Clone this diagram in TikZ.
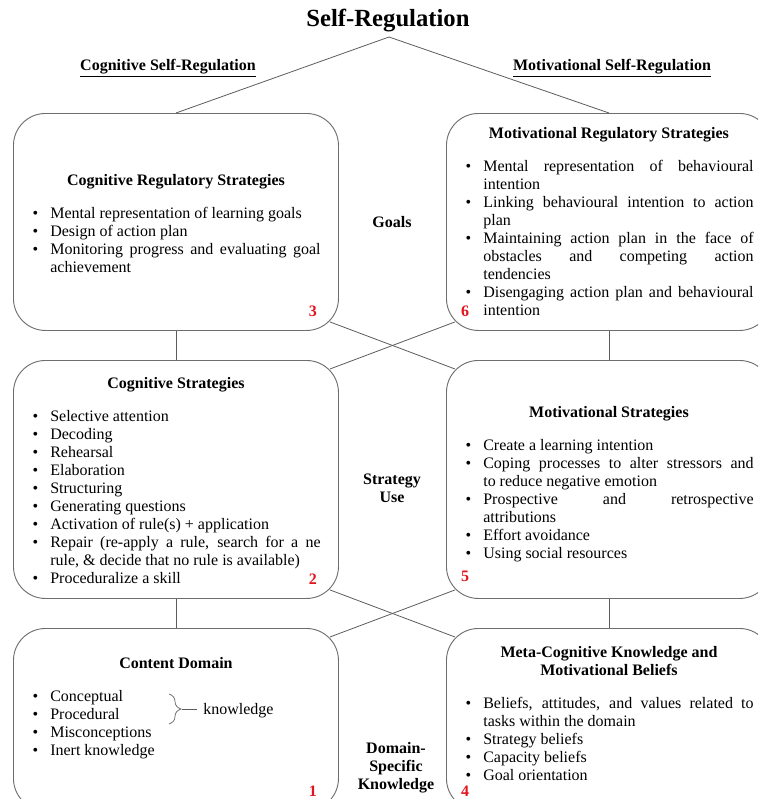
\documentclass[tikz,border=0pt]{standalone}
\usepackage{fontspec}
\setmainfont{Liberation Serif}
\usepackage{xcolor}
\usepackage{tikz}
\usetikzlibrary{positioning, calc, decorations.pathreplacing}
\definecolor{BoxGrey}{HTML}{6E6E6E}
\definecolor{LineGrey}{HTML}{5C5C5C}
\definecolor{NumRed}{HTML}{E3141B}
\setlength{\parindent}{0pt}
\hyphenpenalty=10000
\exhyphenpenalty=10000
\tolerance=9999
\hbadness=10000
\newenvironment{dotlist}{\begin{list}{\textbullet}{\setlength\leftmargin{14.25pt}\setlength\labelsep{9pt}\setlength\labelwidth{5.25pt}\setlength\rightmargin{0pt}\setlength\itemsep{0pt}\setlength\parsep{0pt}\setlength\topsep{11.25pt}\setlength\partopsep{0pt}}}{\end{list}}

\begin{document}
\begin{tikzpicture}[x=0.75pt, y=-0.75pt, node distance=10pt]
    \tikzstyle{box} = [rectangle, draw=BoxGrey, line width=0.7pt, rounded corners=24pt, anchor=north west, minimum width=243.75pt]
    \tikzstyle{txt} = [inner sep=0pt, text width=217pt, align=justify, font=\fontsize{12}{13.5}\selectfont]
    \tikzstyle{head} = [inner sep=0pt, align=center, font=\fontsize{12}{13.5}\selectfont\bfseries]
    \tikzstyle{num} = [inner sep=0pt, text=NumRed, font=\fontsize{12}{13.5}\selectfont\bfseries]
    \tikzstyle{line} = [draw, LineGrey, line width=0.6pt]

    \useasboundingbox (0,0) rectangle (758,799);
    \clip (0,0) rectangle (758,799);

    \node [inner sep=0pt, font=\fontsize{18.5}{20}\selectfont\bfseries] (top) at (388,21) {Self-Regulation};
    \node [head] (cog) at (168,68) {\underline{Cognitive Self-Regulation}};
    \node [head] (mot) at (612,68) {\underline{Motivational Self-Regulation}};
    \coordinate (apex) at (389,37);

    \node [box, minimum height=162.75pt] (b3) at (13,113) {};
    \node [box, minimum height=162.75pt] (b6) at (446,113) {};
    \node [box, minimum height=178.5pt] (b2) at (13,360) {};
    \node [box, minimum height=178.5pt] (b5) at (446,360) {};
    \node [box, minimum height=136.5pt] (b1) at (13,628) {};
    \node [box, minimum height=136.5pt] (b4) at (446,628) {};

    \node [txt, below=45.75pt of b3.north] (t3) {{\centering\bfseries Cognitive Regulatory Strategies\par}
        \begin{dotlist}
        \item Mental representation of learning goals
        \item Design of action plan
        \item Monitoring progress and evaluating goal\linebreak achievement
        \end{dotlist}};
    \node [txt, below=10.5pt of b6.north] (t6) {{\centering\bfseries Motivational Regulatory Strategies\par}
        \begin{dotlist}
        \item Mental representation of behavioural\linebreak intention
        \item Linking behavioural intention to action\linebreak plan
        \item Maintaining action plan in the face of\linebreak obstacles and competing action\linebreak tendencies
        \item Disengaging action plan and behavioural\linebreak intention
        \end{dotlist}};
    \node [txt, below=12.75pt of b2.north] (t2) {{\centering\bfseries Cognitive Strategies\par}
        \begin{dotlist}
        \item Selective attention
        \item Decoding
        \item Rehearsal
        \item Elaboration
        \item Structuring
        \item Generating questions
        \item Activation of rule(s) + application
        \item Repair (re-apply a rule, search for a ne\linebreak rule, \& decide that no rule is available)
        \item Proceduralize a skill
        \end{dotlist}};
    \node [txt, below=34.5pt of b5.north] (t5) {{\centering\bfseries Motivational Strategies\par}
        \begin{dotlist}
        \item Create a learning intention
        \item Coping processes to alter stressors and\linebreak to reduce negative emotion
        \item Prospective and retrospective\linebreak attributions
        \item Effort avoidance
        \item Using social resources
        \end{dotlist}};
    \node [txt, below=21.75pt of b1.north] (t1) {{\centering\bfseries Content Domain\par}
        \begin{dotlist}
        \item Conceptual
        \item Procedural
        \item Misconceptions
        \item Inert knowledge
        \end{dotlist}};
    \node [txt, below=13.5pt of b4.north] (t4) {{\centering\bfseries Meta-Cognitive Knowledge and\\Motivational Beliefs\par}
        \begin{dotlist}
        \item Beliefs, attitudes, and values related to\linebreak tasks within the domain
        \item Strategy beliefs
        \item Capacity beliefs
        \item Goal orientation
        \end{dotlist}};

    \node [num] (n3) at ($(b3.south east)+(-26,-20)$) {3};
    \node [num] (n2) at ($(b2.south east)+(-26,-20)$) {2};
    \node [num] (n1) at ($(b1.south east)+(-26,-20)$) {1};
    \node [num] (n6) at ($(b6.south west)+(19,-20)$) {6};
    \node [num] (n5) at ($(b5.south west)+(19,-23)$) {5};
    \node [num] (n4) at ($(b4.south west)+(19,-20)$) {4};

    \node [head] (goals) at (392,222) {Goals};
    \node [head] (use) at (392,488) {Strategy\\Use};
    \node [head] (dsk) at (396,768) {Domain-\\Specific\\Knowledge};

    \node [inner sep=0pt, anchor=west, font=\fontsize{12}{13.5}\selectfont] (kn) at (203,711) {knowledge};
    \coordinate (kb) at (182,709);
    \path [line, line width=0.5pt, decorate, decoration={brace, amplitude=9pt}] (169,694) -- (169,724);
    \path [line, line width=0.5pt] (kb) -- ([xshift=-4.5pt]kn.west |- kb);

    \path [line] (b3.north) -- (apex) -- (b6.north);
    \path [line] (b3.south) -- (b2.north);
    \path [line] (b6.south) -- (b5.north);
    \path [line] (b2.south) -- (b1.north);
    \path [line] (b5.south) -- (b4.north);
    \path [line] ($(b3.south east)+(-9,-9)$) -- ($(b5.north west)+(9,9)$);
    \path [line] ($(b6.south west)+(9,-9)$) -- ($(b2.north east)+(-9,9)$);
    \path [line] ($(b2.south east)+(-9,-9)$) -- ($(b4.north west)+(9,9)$);
    \path [line] ($(b5.south west)+(9,-9)$) -- ($(b1.north east)+(-9,9)$);
\end{tikzpicture}
\end{document}
